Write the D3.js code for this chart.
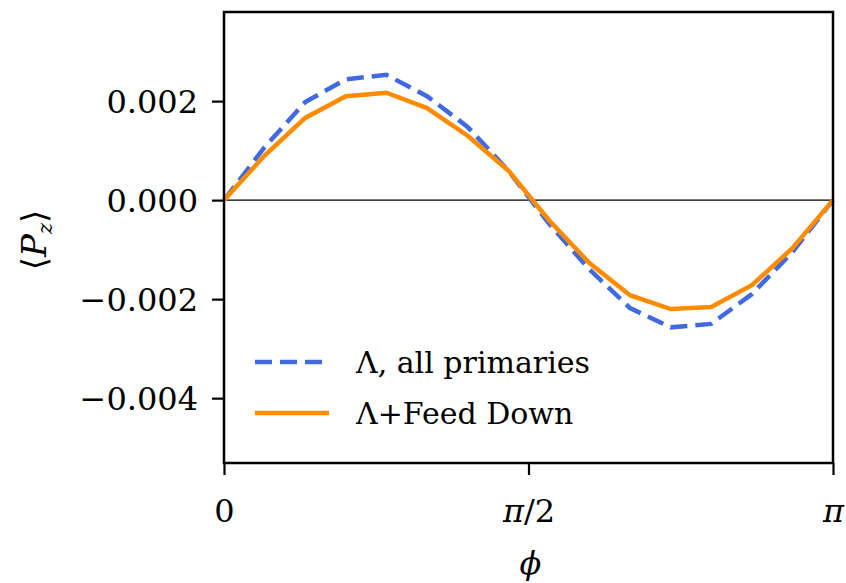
<!DOCTYPE html>
<html><head><meta charset="utf-8">
<script src="https://cdn.jsdelivr.net/npm/d3@7"></script>
<style>body{margin:0;background:#fff;} text{font-family:"DejaVu Serif",serif;}</style>
</head><body>
<svg id="c" width="846" height="583"></svg>
<script>
// phi in units of pi/15
const phiSteps = [0,1,2,3,4,5,6,7,8,9,10,11,12,13,14,15];
const allPrimaries = [0, 0.00107, 0.00198, 0.00244, 0.00253, 0.0021, 0.00148, 0.0006, -0.00047, -0.0014, -0.00218, -0.00257, -0.0025, -0.0019, -0.00105, 0];
const feedDown = [0, 0.0009, 0.00166, 0.0021, 0.00217, 0.00186, 0.0013, 0.0006, -0.0004, -0.00127, -0.00192, -0.0022, -0.00216, -0.00172, -0.00097, 0];
const yTicks = [0.002, 0.000, -0.002, -0.004];
const xTicks = [0, Math.PI/2, Math.PI];
const xTickLabels = ["0", "π/2", "π"];
const legendLabels = ["Λ, all primaries", "Λ+Feed Down"];

const svg = d3.select("#c");
const L=224, R=833, T=12, B=463;
const x = d3.scaleLinear().domain([0, Math.PI]).range([L, R]);
const y = d3.scaleLinear().domain([-0.00531, 0.0038]).range([B, T]);

svg.append("line").attr("x1",L).attr("x2",R).attr("y1",y(0)).attr("y2",y(0)).attr("stroke","#000").attr("stroke-width",1.3);

const line = d3.line().x((d,i)=>x(phiSteps[i]*Math.PI/15)).y(d=>y(d));
svg.append("path").datum(allPrimaries).attr("d",line).attr("fill","none").attr("stroke","#4169e1").attr("stroke-width",4.5).attr("stroke-dasharray","17,8");
svg.append("path").datum(feedDown).attr("d",line).attr("fill","none").attr("stroke","#ff8c00").attr("stroke-width",4.5);

const yAxis = d3.axisLeft(y).tickValues(yTicks).tickSize(12).tickFormat(d=>d3.format(".3f")(d).replace("-","−"));
const gy = svg.append("g").attr("transform",`translate(${L},0)`).call(yAxis);
const xAxis = d3.axisBottom(x).tickValues(xTicks).tickSize(12).tickFormat((d,i)=>xTickLabels[i]);
const gx = svg.append("g").attr("transform",`translate(0,${B})`).call(xAxis);
[gx,gy].forEach(g=>{g.select(".domain").remove(); g.selectAll(".tick line").attr("stroke","#000").attr("stroke-width",2.2);
  g.selectAll("text").attr("font-family","DejaVu Serif, serif").attr("font-size",32).attr("fill","#000");});
gy.selectAll("text").attr("x",-26).attr("dy","0.36em");
gx.selectAll("text").attr("y",59).attr("dy",0);
gx.selectAll(".tick text").filter((d,i)=>i===2).attr("font-style","italic");
gx.selectAll(".tick text").filter((d,i)=>i===1).text(null).call(t=>{t.append("tspan").attr("font-style","italic").text("π");t.append("tspan").attr("font-style","normal").text("/2");});

svg.append("rect").attr("x",L).attr("y",T).attr("width",R-L).attr("height",B-T).attr("fill","none").attr("stroke","#000").attr("stroke-width",2.5);

const yl = svg.append("text").attr("transform","translate(46,240) rotate(-90)").attr("text-anchor","middle").attr("font-size",34);
yl.append("tspan").text("⟨");
yl.append("tspan").attr("font-style","italic").text("P");
yl.append("tspan").attr("font-style","italic").attr("font-size",21).attr("dy",6).text("z");
yl.append("tspan").attr("dy",-6).text("⟩");
svg.append("text").attr("x",x(Math.PI/2)+2).attr("y",574).attr("text-anchor","middle").attr("font-size",32).attr("font-style","italic").text("ϕ");

const leg = [{y:362, c:"#4169e1", dash:"17,8"},{y:413, c:"#ff8c00", dash:null}];
leg.forEach((l,i)=>{
  const ln = svg.append("line").attr("x1",255).attr("x2",329).attr("y1",l.y).attr("y2",l.y).attr("stroke",l.c).attr("stroke-width",4.5);
  if(l.dash) ln.attr("stroke-dasharray",l.dash);
  svg.append("text").attr("x",356).attr("y",l.y+11).attr("font-size",30).attr("fill","#000").text(legendLabels[i]);
});
</script>
</body></html>
